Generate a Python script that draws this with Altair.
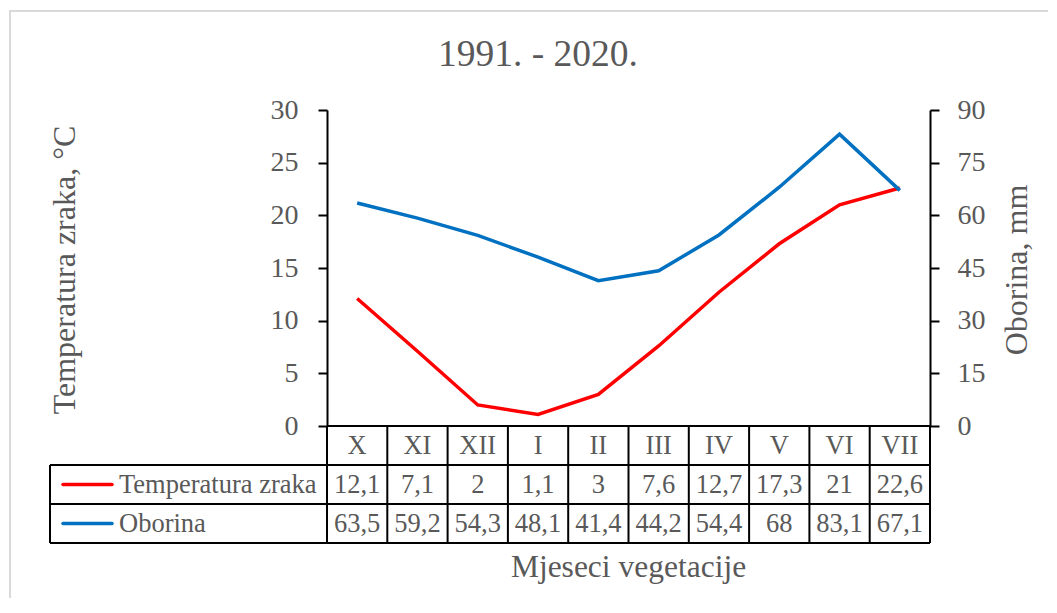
import altair as alt
import pandas as pd

# ---- data ----
months = ["X", "XI", "XII", "I", "II", "III", "IV", "V", "VI", "VII"]
temperature = [12.1, 7.1, 2, 1.1, 3, 7.6, 12.7, 17.3, 21, 22.6]
precipitation = [63.5, 59.2, 54.3, 48.1, 41.4, 44.2, 54.4, 68, 83.1, 67.1]
series_names = ["Temperatura zraka", "Oborina"]
temp_ticks = [0, 5, 10, 15, 20, 25, 30]
prec_ticks = [0, 15, 30, 45, 60, 75, 90]
title_text = "1991. - 2020."
left_title = "Temperatura zraka, °C"
right_title = "Oborina, mm"
bottom_title = "Mjeseci vegetacije"

# ---- layout / style ----
W, H = 603, 316
ROW = 39
LEG_LEFT = -277
FONT = "Liberation Serif"
GREY = "#595959"
RED = "#ff0000"
BLUE = "#0070c0"
LW = 3.5
GW = 2


def fmt(v):
    return f"{v:g}".replace(".", ",")


df = pd.DataFrame({
    "m": months,
    "temp": temperature,
    "prec": precipitation,
    "temp_lbl": [fmt(v) for v in temperature],
    "prec_lbl": [fmt(v) for v in precipitation],
})
one = pd.DataFrame({"k": [0]})

xscale = alt.Scale(type="band", domain=months, paddingInner=0, paddingOuter=0)


def xc(bp=0.5):
    return alt.X("m:N", scale=xscale, bandPosition=bp, axis=None)


base = alt.Chart(df)
dummy = alt.Chart(one)

axis_common = dict(
    title=None, grid=False, domainColor="black", domainWidth=GW,
    tickColor="black", tickWidth=GW, tickSize=9,
    labelFont=FONT, labelFontSize=28, labelColor=GREY,
)

temp_line = base.mark_line(color=RED, strokeWidth=LW).encode(
    x=xc(),
    y=alt.Y("temp:Q", scale=alt.Scale(domain=[0, 30], nice=False),
            axis=alt.Axis(values=temp_ticks, orient="left", labelPadding=20, **axis_common)),
)
prec_line = base.mark_line(color=BLUE, strokeWidth=LW).encode(
    x=xc(),
    y=alt.Y("prec:Q", scale=alt.Scale(domain=[0, 90], nice=False),
            axis=alt.Axis(values=prec_ticks, orient="right", labelPadding=18, **axis_common)),
)
lines = alt.layer(temp_line, prec_line).resolve_scale(y="independent")

# ---- data table grid ----
def hrule(y, x0):
    return dummy.mark_rule(color="black", strokeWidth=GW).encode(
        x=alt.value(x0), x2=alt.value(W), y=alt.value(y))

grid = [
    hrule(H, 0),
    hrule(H + ROW, LEG_LEFT),
    hrule(H + 2 * ROW, LEG_LEFT),
    hrule(H + 3 * ROW, LEG_LEFT),
    dummy.mark_rule(color="black", strokeWidth=GW).encode(
        x=alt.value(LEG_LEFT), y=alt.value(H + ROW), y2=alt.value(H + 3 * ROW)),
    base.mark_rule(color="black", strokeWidth=GW).encode(
        x=xc(0), y=alt.value(H), y2=alt.value(H + 3 * ROW)),
    base.transform_filter(alt.datum.m == months[-1]).mark_rule(color="black", strokeWidth=GW).encode(
        x=xc(1), y=alt.value(H), y2=alt.value(H + 3 * ROW)),
]

cell_style = dict(font=FONT, fontSize=26.5, color=GREY, baseline="middle", align="center")
cells = [
    base.mark_text(**cell_style).encode(x=xc(), y=alt.value(H + 0.5 * ROW), text="m:N"),
    base.mark_text(**cell_style).encode(x=xc(), y=alt.value(H + 1.5 * ROW), text="temp_lbl:N"),
    base.mark_text(**cell_style).encode(x=xc(), y=alt.value(H + 2.5 * ROW), text="prec_lbl:N"),
]

legend = [
    dummy.mark_rule(color=RED, strokeWidth=LW, strokeCap="round").encode(
        x=alt.value(-264), x2=alt.value(-215), y=alt.value(H + 1.5 * ROW)),
    dummy.mark_rule(color=BLUE, strokeWidth=LW, strokeCap="round").encode(
        x=alt.value(-264), x2=alt.value(-215), y=alt.value(H + 2.5 * ROW)),
    dummy.mark_text(text=series_names[0], font=FONT, fontSize=26.5, color=GREY,
                    align="left", baseline="middle").encode(
        x=alt.value(-208), y=alt.value(H + 1.5 * ROW)),
    dummy.mark_text(text=series_names[1], font=FONT, fontSize=26.5, color=GREY,
                    align="left", baseline="middle").encode(
        x=alt.value(-208), y=alt.value(H + 2.5 * ROW)),
]

titles = [
    dummy.mark_text(text=title_text, font=FONT, fontSize=37.5, color=GREY,
                    align="center", baseline="middle").encode(
        x=alt.value(211), y=alt.value(-55)),
    dummy.mark_text(text=left_title, font=FONT, fontSize=32, color=GREY, angle=270,
                    align="center", baseline="middle").encode(
        x=alt.value(-262), y=alt.value(H / 2 + 2)),
    dummy.mark_text(text=right_title, font=FONT, fontSize=32, color=GREY, angle=270,
                    align="center", baseline="middle").encode(
        x=alt.value(690), y=alt.value(H / 2 + 2)),
    dummy.mark_text(text=bottom_title, font=FONT, fontSize=31.5, color=GREY,
                    align="center", baseline="middle").encode(
        x=alt.value(W / 2), y=alt.value(H + 3 * ROW + 25)),
]

frame = dummy.mark_rect(fill=None, stroke="#d9d9d9", strokeWidth=2).encode(
    x=alt.value(-317), y=alt.value(-99), x2=alt.value(780), y2=alt.value(540))

chart = alt.layer(
    frame, *grid, *cells, *legend, *titles, lines
).resolve_scale(y="independent").properties(
    width=W, height=H,
    autosize=alt.AutoSizeParams(type="none"),
    padding={"left": 319, "top": 102, "right": 118, "bottom": 172},
    background="white",
).configure_view(stroke=None)

chart.save("out.html", embed_options={"renderer": "svg", "actions": False})
